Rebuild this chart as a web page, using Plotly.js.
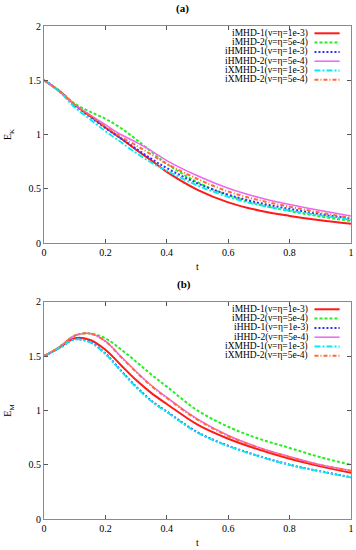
<!DOCTYPE html>
<html>
<head>
<meta charset="utf-8">
<script src="https://cdn.plot.ly/plotly-3.0.1.min.js"></script>
<style>html,body{margin:0;padding:0;background:#fff;}#chart{width:356px;height:550px;}</style>
</head>
<body>
<div id="chart"></div>
<script>
// ---- data ----
var t = [0, 0.05, 0.1, 0.15, 0.2, 0.25, 0.3, 0.35, 0.4, 0.5, 0.6, 0.7, 0.8, 0.9, 1.0];

var namesA = ["iMHD-1(ν=η=1e-3)", "iMHD-2(ν=η=5e-4)", "iHMHD-1(ν=η=1e-3)", "iHMHD-2(ν=η=5e-4)", "iXMHD-1(ν=η=1e-3)", "iXMHD-2(ν=η=5e-4)"];
var namesB = ["iMHD-1(ν=η=1e-3)", "iMHD-2(ν=η=5e-4)", "iHHD-1(ν=η=1e-3)", "iHHD-2(ν=η=5e-4)", "iXMHD-1(ν=η=1e-3)", "iXMHD-2(ν=η=5e-4)"];

// (a) kinetic energy E_K
var ek_iMHD1  = [1.5, 1.40, 1.275, 1.17, 1.065, 0.965, 0.86, 0.76, 0.655, 0.49, 0.375, 0.30, 0.25, 0.21, 0.178];
var ek_iMHD2  = [1.5, 1.405, 1.285, 1.21, 1.145, 1.06, 0.955, 0.84, 0.73, 0.56, 0.44, 0.355, 0.295, 0.245, 0.203];
var ek_iHMHD1 = [1.5, 1.40, 1.27, 1.165, 1.06, 0.965, 0.87, 0.775, 0.69, 0.55, 0.445, 0.37, 0.315, 0.265, 0.225];
var ek_iHMHD2 = [1.5, 1.40, 1.275, 1.18, 1.09, 1.00, 0.93, 0.85, 0.76, 0.62, 0.505, 0.42, 0.355, 0.30, 0.249];
var ek_iXMHD1 = [1.5, 1.395, 1.25, 1.14, 1.03, 0.93, 0.83, 0.74, 0.665, 0.53, 0.425, 0.35, 0.30, 0.255, 0.215];
var ek_iXMHD2 = [1.5, 1.40, 1.275, 1.175, 1.075, 0.98, 0.90, 0.815, 0.73, 0.59, 0.475, 0.395, 0.335, 0.28, 0.231];

// (b) magnetic energy E_M
var em_iMHD1  = [1.5, 1.58, 1.665, 1.65, 1.56, 1.42, 1.28, 1.16, 1.06, 0.87, 0.74, 0.64, 0.555, 0.485, 0.425];
var em_iMHD2  = [1.5, 1.585, 1.69, 1.71, 1.665, 1.565, 1.45, 1.33, 1.22, 1.00, 0.85, 0.74, 0.655, 0.57, 0.50];
var em_iHHD1  = [1.5, 1.575, 1.655, 1.63, 1.525, 1.37, 1.22, 1.09, 0.99, 0.80, 0.675, 0.58, 0.50, 0.44, 0.385];
var em_iHHD2  = [1.5, 1.585, 1.69, 1.71, 1.64, 1.50, 1.36, 1.23, 1.12, 0.92, 0.77, 0.66, 0.575, 0.50, 0.447];
var em_iXMHD1 = [1.5, 1.575, 1.655, 1.628, 1.52, 1.365, 1.215, 1.085, 0.985, 0.795, 0.672, 0.578, 0.498, 0.438, 0.383];
var em_iXMHD2 = [1.5, 1.585, 1.69, 1.708, 1.637, 1.495, 1.355, 1.225, 1.115, 0.915, 0.765, 0.655, 0.57, 0.497, 0.443];

var xTicks = [0, 0.2, 0.4, 0.6, 0.8, 1];
var xTickText = ["0", "0.2", "0.4", "0.6", "0.8", "1"];
var yTicks = [0, 0.5, 1, 1.5, 2];
var yTickText = ["0", "0.5", "1", "1.5", "2"];

// ---- styles ----
var styles = [
  {color: "#ff1a1a", width: 2, dash: "solid"},
  {color: "#22ee22", width: 2, dash: "3px,2px"},
  {color: "#3030ff", width: 2, dash: "2px,2px"},
  {color: "#ee66ee", width: 1.5, dash: "solid"},
  {color: "#00eeee", width: 1.8, dash: "6px,2px,2px,2px"},
  {color: "#ff6a3a", width: 2, dash: "4px,2px,1px,2px"}
];

var setA = [ek_iMHD1, ek_iMHD2, ek_iHMHD1, ek_iHMHD2, ek_iXMHD1, ek_iXMHD2];
var setB = [em_iMHD1, em_iMHD2, em_iHHD1, em_iHHD2, em_iXMHD1, em_iXMHD2];

var traces = [];
setA.forEach(function (ys, i) {
  traces.push({x: t, y: ys, name: namesA[i], type: "scatter", mode: "lines",
    line: {color: styles[i].color, width: styles[i].width, dash: styles[i].dash, shape: "spline", smoothing: 1},
    xaxis: "x", yaxis: "y", showlegend: false});
});
setB.forEach(function (ys, i) {
  traces.push({x: t, y: ys, name: namesB[i], type: "scatter", mode: "lines",
    line: {color: styles[i].color, width: styles[i].width, dash: styles[i].dash, shape: "spline", smoothing: 1},
    xaxis: "x2", yaxis: "y2", showlegend: false});
});

var FONT = "Liberation Serif, Times New Roman, serif";
var axisCommon = {
  showline: true, linecolor: "#8a8a8a", linewidth: 1, mirror: "ticks",
  ticks: "inside", ticklen: 4, tickcolor: "#555", tickwidth: 1,
  showgrid: false, zeroline: false,
  tickfont: {family: FONT, size: 10, color: "#000"}
};

function ax(extra) { return Object.assign({}, axisCommon, extra); }

// legend built as shapes + annotations (gnuplot-style: text left, sample right)
var shapes = [], annotations = [];
var plotH = 217;
function buildLegend(names, xr, yr) {
  names.forEach(function (nm, i) {
    var ypx = 7.3 + 9.3 * i;
    var yd = 1 - ypx / plotH;
    shapes.push({type: "line", xref: xr + " domain", yref: yr + " domain",
      x0: 0.881, x1: 0.963, y0: yd, y1: yd,
      line: {color: styles[i].color, width: styles[i].width, dash: styles[i].dash}});
    annotations.push({xref: xr + " domain", yref: yr + " domain", x: 0.866, y: yd,
      xanchor: "right", yanchor: "middle", showarrow: false, text: nm, height: 9.3,
      font: {family: FONT, size: 9.5, color: "#000"}});
  });
}
buildLegend(namesA, "x", "y");
buildLegend(namesB, "x2", "y2");

annotations.push({xref: "paper", yref: "paper", x: 0.452, y: 1, yshift: 18, xanchor: "center", yanchor: "middle",
  showarrow: false, text: "<b>(a)</b>", font: {family: FONT, size: 11, color: "#000"}});
annotations.push({xref: "paper", yref: "paper", x: 0.455, y: 0.4402, yshift: 17, xanchor: "center", yanchor: "middle",
  showarrow: false, text: "<b>(b)</b>", font: {family: FONT, size: 11, color: "#000"}});

var layout = {
  width: 356, height: 550,
  margin: {l: 44, r: 5, t: 26, b: 31},
  paper_bgcolor: "#fff", plot_bgcolor: "#fff",
  showlegend: false,
  xaxis: ax({domain: [0, 1], range: [0, 1], anchor: "y", tickvals: xTicks, ticktext: xTickText,
    title: {text: "t", font: {family: FONT, size: 10, color: "#000"}, standoff: 5}}),
  yaxis: ax({domain: [0.5598, 1], range: [0, 2], anchor: "x", tickvals: yTicks, ticktext: yTickText,
    title: {text: "E<sub>K</sub>", font: {family: FONT, size: 10, color: "#000"}, standoff: 14}}),
  xaxis2: ax({domain: [0, 1], range: [0, 1], anchor: "y2", tickvals: xTicks, ticktext: xTickText,
    title: {text: "t", font: {family: FONT, size: 10, color: "#000"}, standoff: 5}}),
  yaxis2: ax({domain: [0, 0.4402], range: [0, 2], anchor: "x2", tickvals: yTicks, ticktext: yTickText,
    title: {text: "E<sub>M</sub>", font: {family: FONT, size: 10, color: "#000"}, standoff: 14}}),
  shapes: shapes,
  annotations: annotations
};

Plotly.newPlot("chart", traces, layout, {staticPlot: true, displayModeBar: false});
</script>
</body>
</html>
